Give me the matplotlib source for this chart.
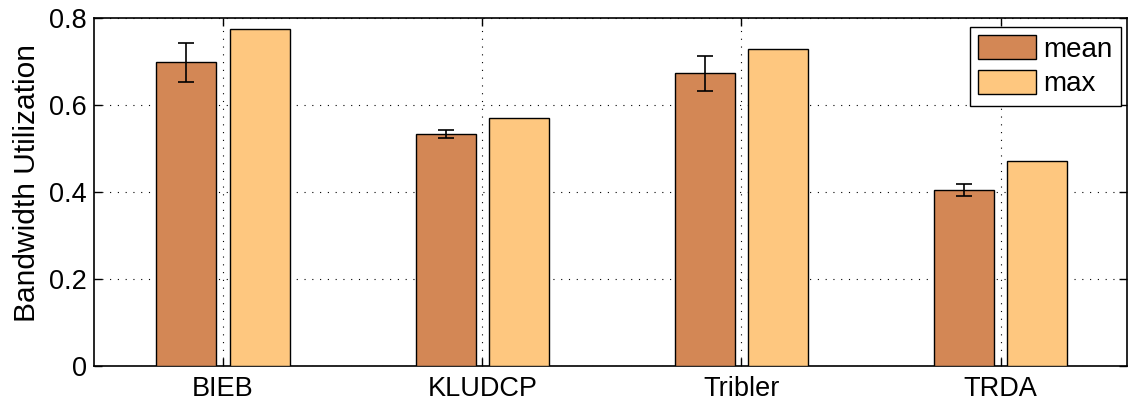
import matplotlib.pyplot as plt
import numpy as np

plt.rcParams['font.family'] = ['Liberation Sans', 'DejaVu Sans']

systems = ["BIEB", "KLUDCP", "Tribler", "TRDA"]
mean_util = [0.698, 0.533, 0.672, 0.404]
mean_err = [0.045, 0.0085, 0.041, 0.0135]
max_util = [0.775, 0.569, 0.729, 0.471]

fig = plt.figure(figsize=(11.32, 4.03), dpi=100)
ax = fig.add_axes([0.083, 0.0918, 0.9125, 0.8643])

x = np.arange(1, len(systems) + 1)
w = 0.2315
off = 0.141
ax.bar(x - off, mean_util, w, color="#D38755", edgecolor="black", linewidth=1,
       label="mean", zorder=3)
ax.bar(x + off, max_util, w, color="#FEC77F", edgecolor="black", linewidth=1,
       label="max", zorder=3)
ax.errorbar(x - off, mean_util, yerr=mean_err, fmt="none", ecolor="black",
            elinewidth=1.2, capsize=5.5, capthick=1.2, zorder=4)

ax.set_xlim(0.502, 4.487)
ax.set_ylim(0, 0.8)
ax.set_xticks(x)
ax.set_xticklabels(systems)
ax.set_yticks([0, 0.2, 0.4, 0.6, 0.8])
ax.set_yticklabels(["0", "0.2", "0.4", "0.6", "0.8"])
ax.tick_params(direction="in", labelsize=19.5, length=6, width=1, pad=5,
               top=True, right=True)
ax.tick_params(axis="x", pad=7)
ax.grid(True, linestyle=(0, (1, 6)), color="black", linewidth=0.8, zorder=0)
ax.set_axisbelow(True)
for s in ax.spines.values():
    s.set_linewidth(1.2)
ax.set_ylabel("Bandwidth Utilization", fontsize=21.5)
ax.yaxis.set_label_coords(-0.051, 0.525)

leg = ax.legend(loc="upper right", bbox_to_anchor=(0.9942, 0.973),
                fontsize=20, fancybox=False, framealpha=1,
                edgecolor="black", handlelength=2.1, handleheight=0.95,
                borderaxespad=0, labelspacing=0.25, handletextpad=0.25,
                borderpad=0.3)
leg.get_frame().set_linewidth(1)

fig.savefig("out.png", dpi=100)
plt.close(fig)
